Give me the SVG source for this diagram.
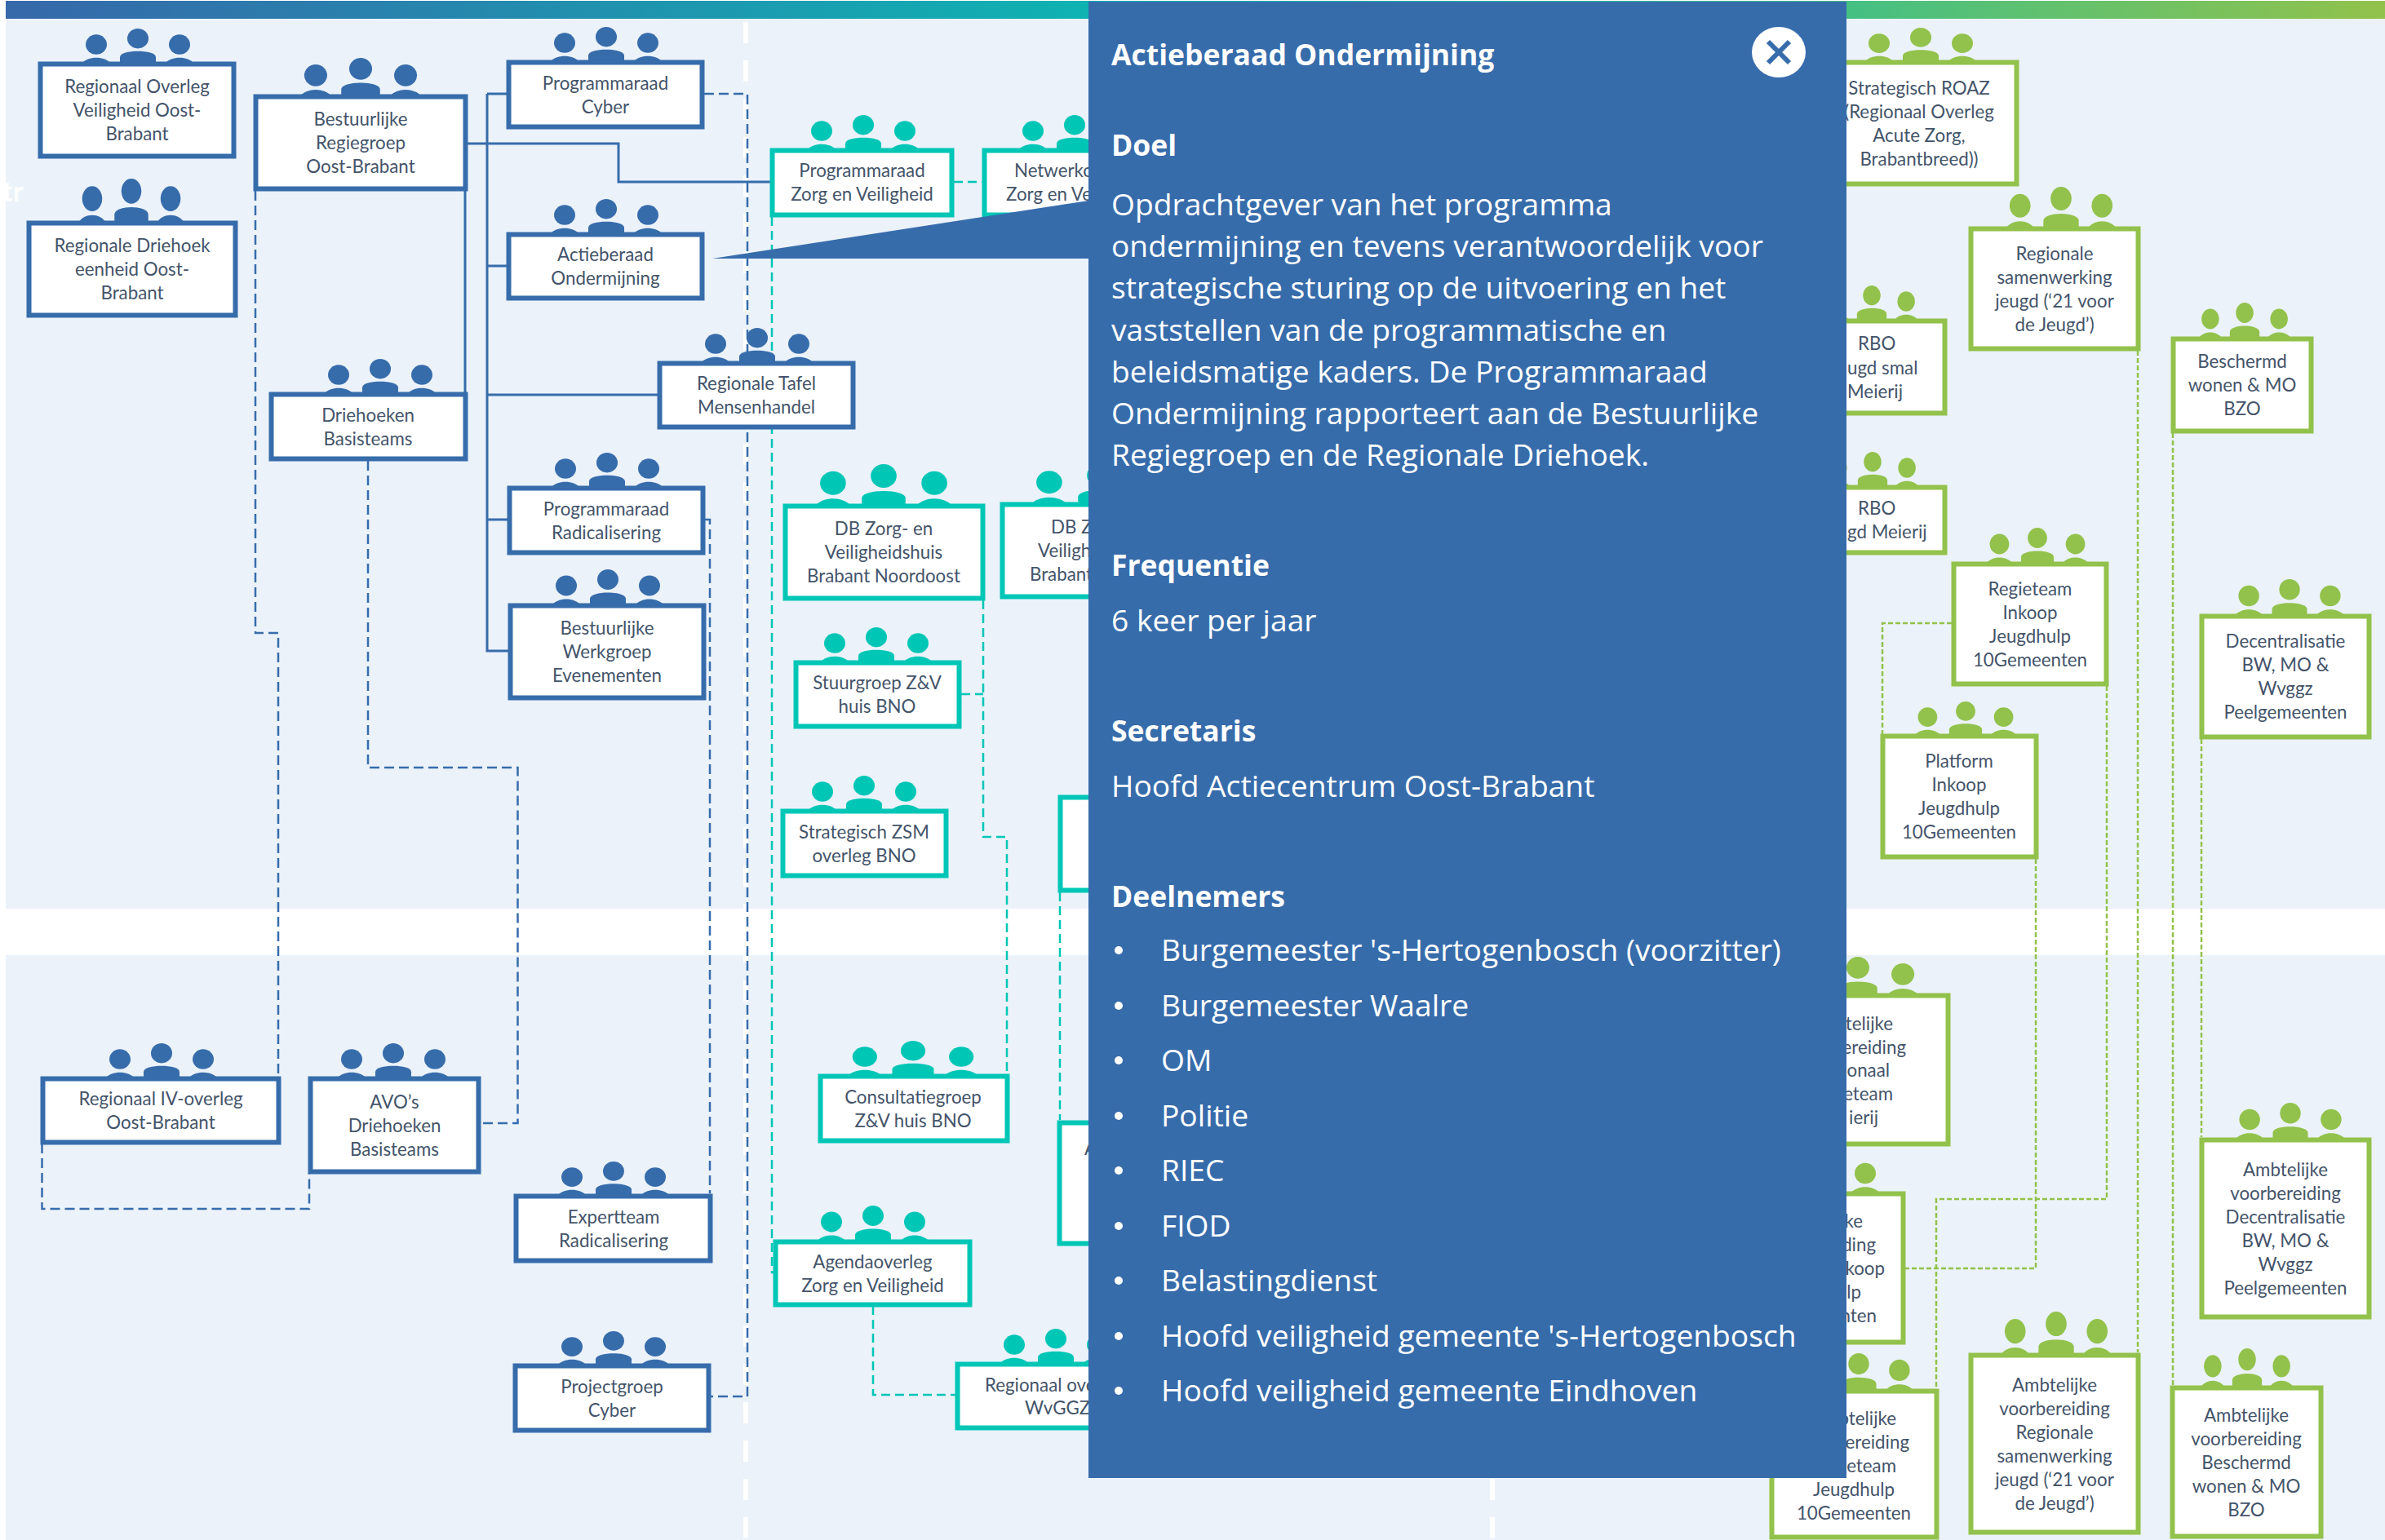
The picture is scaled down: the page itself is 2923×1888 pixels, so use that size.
<svg xmlns="http://www.w3.org/2000/svg" width="2923" height="1888" viewBox="0 0 2923 1888">
<style>
.nb{fill:#fff;stroke:#376CAB;stroke-width:6}
.nt{fill:#fff;stroke:#00C6B6;stroke-width:6}
.ng{fill:#fff;stroke:#92C24B;stroke-width:6}
.ib{fill:#376CAB}.it{fill:#00C6B6}.ig{fill:#92C24B}
text{font-family:"Lato","Open Sans","Liberation Sans",sans-serif}
.l{font-size:22.3px;fill:#44546A;text-anchor:middle}
.ls{font-size:22.3px;fill:#44546A;text-anchor:start}
.le{font-size:22.3px;fill:#44546A;text-anchor:end}
.cb,.ct,.cg,.cs{fill:none}
.cs{stroke:#376CAB;stroke-width:3}
.cb{stroke:#376CAB;stroke-width:2.5;stroke-dasharray:12 6}
.ct{stroke:#00C6B6;stroke-width:2.5;stroke-dasharray:11 6}
.cg{stroke:#92C24B;stroke-width:2.5;stroke-dasharray:6 3}
.ph{font-family:"Open Sans","Liberation Sans",sans-serif;font-size:35.5px;font-weight:700;fill:#fff}
.pb{font-family:"Open Sans","Liberation Sans",sans-serif;font-size:37.2px;fill:#fff}
</style>
<defs>
<linearGradient id="bar" x1="0" x2="1" y1="0" y2="0"><stop offset="0" stop-color="#3668AA"/><stop offset="0.45" stop-color="#0FB2B2"/><stop offset="0.75" stop-color="#3CC08A"/><stop offset="1" stop-color="#92C24B"/></linearGradient>
<symbol id="p" viewBox="0 0 138 44" preserveAspectRatio="none" overflow="visible">
<ellipse cx="18" cy="20" rx="13" ry="12.5"/><ellipse cx="69" cy="12.5" rx="13" ry="12.5"/><ellipse cx="120" cy="20" rx="13" ry="12.5"/>
<path d="M0 44C8 34 28 34 36 44Z"/><path d="M47 44V36C47 26 91 26 91 36V44Z"/><path d="M102 44C110 34 130 34 138 44Z"/>
</symbol>
</defs>
<g id="background">
<rect width="2923" height="1888" fill="#fff"/>
<rect x="7" y="22" width="2916" height="1092" fill="#EBF2FA"/>
<rect x="7" y="1171" width="2916" height="717" fill="#EBF2FA"/>
<rect x="7" y="1" width="2916" height="22" fill="url(#bar)"/>
<path d="M914 27V1888M1829 27V1888" fill="none" stroke="#fff" stroke-width="6" stroke-dasharray="26 21"/>
<text x="3" y="247" font-size="34" font-weight="700" fill="#fff">tr</text>
</g>
<g id="connectors">
<path class="cs" d="M573 176H597M597 115V798H623M597 115H621M597 326H621M597 484H806M597 637H622M597 176H758V223H944M570 234V481"/>
<path class="cb" d="M863 115H916V1712H871"/>
<path class="cb" d="M313 234V776H341V1319"/>
<path class="cb" d="M451 565V941H634.5V1377H589"/>
<path class="cb" d="M864 637H870V1463"/>
<path class="cb" d="M51.500 1402V1482H379V1438"/>
<path class="ct" d="M1169 223H1204"/>
<path class="ct" d="M946 266V1560H948"/>
<path class="ct" d="M1205 736V1026H1234V1316"/>
<path class="ct" d="M1178 851H1205"/>
<path class="ct" d="M1299 1094V1373"/>
<path class="ct" d="M1070 1601V1710H1171"/>
<path class="cg" d="M2620 430V1658"/>
<path class="cg" d="M2663 531V1698"/>
<path class="cg" d="M2698 906V1394"/>
<path class="cg" d="M2582 841V1470H2373V1702"/>
<path class="cg" d="M2495 1053V1555H2335"/>
<path class="cg" d="M2392 764H2307V900"/>
</g>
<g id="n01"><use href="#p" class="ib" x="100" y="35" width="138" height="43"/><rect class="nb" x="49.500" y="78.500" width="237" height="113"/><text class="l" x="168" y="114">Regionaal Overleg</text><text class="l" x="168" y="143">Veiligheid Oost-</text><text class="l" x="168" y="172">Brabant</text></g>
<g id="n02"><use href="#p" class="ib" x="96" y="219" width="130" height="54"/><rect class="nb" x="35.500" y="273.500" width="253" height="113"/><text class="l" x="162" y="309">Regionale Driehoek</text><text class="l" x="162" y="338">eenheid Oost-</text><text class="l" x="162" y="367">Brabant</text></g>
<g id="n03"><use href="#p" class="ib" x="367.500" y="71" width="149" height="47"/><rect class="nb" x="313.500" y="118.500" width="257" height="113"/><text class="l" x="442" y="154">Bestuurlijke</text><text class="l" x="442" y="183">Regiegroep</text><text class="l" x="442" y="212">Oost-Brabant</text></g>
<g id="n04"><use href="#p" class="ib" x="674" y="33" width="138" height="43"/><rect class="nb" x="623.500" y="76.500" width="237" height="79"/><text class="l" x="742" y="109.500">Programmaraad</text><text class="l" x="742" y="138.500">Cyber</text></g>
<g id="n05"><use href="#p" class="ib" x="674" y="244" width="138" height="43"/><rect class="nb" x="623.500" y="287.500" width="237" height="78"/><text class="l" x="742" y="320">Actieberaad</text><text class="l" x="742" y="349">Ondermijning</text></g>
<g id="n06"><use href="#p" class="ib" x="397" y="440" width="138" height="43"/><rect class="nb" x="332.500" y="483.500" width="238" height="79"/><text class="l" x="451" y="516.500">Driehoeken</text><text class="l" x="451" y="545.500">Basisteams</text></g>
<g id="n07"><use href="#p" class="ib" x="859" y="402" width="138" height="43"/><rect class="nb" x="808.500" y="445.500" width="237" height="78"/><text class="l" x="927" y="478">Regionale Tafel</text><text class="l" x="927" y="507">Mensenhandel</text></g>
<g id="n08"><use href="#p" class="ib" x="675" y="555" width="138" height="43"/><rect class="nb" x="624.500" y="598.500" width="237" height="79"/><text class="l" x="743" y="631.500">Programmaraad</text><text class="l" x="743" y="660.500">Radicalisering</text></g>
<g id="n09"><use href="#p" class="ib" x="676" y="698" width="138" height="44"/><rect class="nb" x="625.500" y="742.500" width="237" height="113"/><text class="l" x="744" y="778">Bestuurlijke</text><text class="l" x="744" y="807">Werkgroep</text><text class="l" x="744" y="836">Evenementen</text></g>
<g id="n10"><use href="#p" class="ib" x="129" y="1279" width="138" height="43"/><rect class="nb" x="52.500" y="1322.500" width="289" height="78"/><text class="l" x="197" y="1355">Regionaal IV-overleg</text><text class="l" x="197" y="1384">Oost-Brabant</text></g>
<g id="n11"><use href="#p" class="ib" x="413" y="1279" width="138" height="43"/><rect class="nb" x="380.500" y="1322.500" width="206" height="114"/><text class="l" x="483.500" y="1358.500">AVO’s</text><text class="l" x="483.500" y="1387.500">Driehoeken</text><text class="l" x="483.500" y="1416.500">Basisteams</text></g>
<g id="n12"><use href="#p" class="ib" x="683" y="1424" width="138" height="42"/><rect class="nb" x="632.500" y="1466.500" width="238" height="79"/><text class="l" x="752" y="1499.500">Expertteam</text><text class="l" x="752" y="1528.500">Radicalisering</text></g>
<g id="n13"><use href="#p" class="ib" x="683" y="1632" width="138" height="42"/><rect class="nb" x="631.500" y="1674.500" width="237" height="79"/><text class="l" x="750" y="1707.500">Projectgroep</text><text class="l" x="750" y="1736.500">Cyber</text></g>
<g id="n14"><use href="#p" class="it" x="989" y="141" width="138" height="43"/><rect class="nt" x="946.500" y="184.500" width="220" height="79"/><text class="l" x="1056.500" y="217">Programmaraad</text><text class="l" x="1056.500" y="246">Zorg en Veiligheid</text></g>
<g id="n15"><use href="#p" class="it" x="1248" y="141" width="138" height="43"/><rect class="nt" x="1206.500" y="184.500" width="220" height="79"/><text class="ls" x="1243" y="217">Netwerko</text><text class="ls" x="1233" y="246">Zorg en Ve</text></g>
<g id="n16"><use href="#p" class="it" x="999" y="569" width="168" height="51"/><rect class="nt" x="962.500" y="620.500" width="242" height="113"/><text class="l" x="1083" y="656">DB Zorg- en</text><text class="l" x="1083" y="685">Veiligheidshuis</text><text class="l" x="1083" y="714">Brabant Noordoost</text></g>
<g id="n17"><use href="#p" class="it" x="1264" y="569" width="168" height="49"/><rect class="nt" x="1228.500" y="618.500" width="220" height="113"/><text class="ls" x="1288" y="654">DB Zo</text><text class="ls" x="1272" y="683">Veiligh</text><text class="ls" x="1262" y="712">Brabant</text></g>
<g id="n18"><use href="#p" class="it" x="1005" y="769" width="138" height="43"/><rect class="nt" x="975.500" y="812.500" width="200" height="78"/><text class="l" x="1075" y="845">Stuurgroep Z&amp;V</text><text class="l" x="1075" y="874">huis BNO</text></g>
<g id="n19"><use href="#p" class="it" x="990" y="951" width="138" height="43"/><rect class="nt" x="959.500" y="994.500" width="200" height="79"/><text class="l" x="1059" y="1027.500">Strategisch ZSM</text><text class="l" x="1059" y="1056.500">overleg BNO</text></g>
<g id="n20"><rect class="nt" x="1299.500" y="977.500" width="100" height="114"/></g>
<g id="n21"><use href="#p" class="it" x="1039" y="1276" width="160" height="43"/><rect class="nt" x="1005.500" y="1319.500" width="229" height="79"/><text class="l" x="1119" y="1352.500">Consultatiegroep</text><text class="l" x="1119" y="1381.500">Z&amp;V huis BNO</text></g>
<g id="n22"><rect class="nt" x="1298.500" y="1376.500" width="100" height="148"/><text class="ls" x="1329" y="1416">A</text></g>
<g id="n23"><use href="#p" class="it" x="1001" y="1478" width="138" height="44"/><rect class="nt" x="950.500" y="1522.500" width="238" height="77"/><text class="l" x="1069.500" y="1554.500">Agendaoverleg</text><text class="l" x="1069.500" y="1583.500">Zorg en Veiligheid</text></g>
<g id="n24"><use href="#p" class="it" x="1225" y="1629" width="138" height="43"/><rect class="nt" x="1173.500" y="1672.500" width="220" height="78"/><text class="ls" x="1207" y="1706">Regionaal ove</text><text class="ls" x="1256" y="1734">WvGGZ</text></g>
<g id="n25"><use href="#p" class="ig" x="2285" y="34" width="138" height="42"/><rect class="ng" x="2200" y="76.500" width="271.500" height="149"/><text class="l" x="2352" y="115.500">Strategisch ROAZ</text><text class="l" x="2352" y="144.500">(Regionaal Overleg</text><text class="l" x="2352" y="173.500">Acute Zorg,</text><text class="l" x="2352" y="202.500">Brabantbreed))</text></g>
<g id="n26"><use href="#p" class="ig" x="2458" y="229" width="136" height="51"/><rect class="ng" x="2415.500" y="280.500" width="205" height="147"/><text class="l" x="2518" y="318.500">Regionale</text><text class="l" x="2518" y="347.500">samenwerking</text><text class="l" x="2518" y="376.500">jeugd (‘21 voor</text><text class="l" x="2518" y="405.500">de Jeugd’)</text></g>
<g id="n27"><use href="#p" class="ig" x="2237" y="350" width="114" height="43"/><rect class="ng" x="2200" y="393.500" width="183.500" height="113"/><text class="ls" x="2277" y="429">RBO</text><text class="ls" x="2264" y="459">ugd smal</text><text class="ls" x="2264" y="488">Meierij</text></g>
<g id="n28"><use href="#p" class="ig" x="2238" y="554" width="114" height="43"/><rect class="ng" x="2200" y="597.500" width="183.500" height="80"/><text class="ls" x="2277" y="631">RBO</text><text class="ls" x="2264" y="660">gd Meierij</text></g>
<g id="n29"><use href="#p" class="ig" x="2694" y="371" width="114" height="44"/><rect class="ng" x="2663.500" y="415.500" width="169" height="113"/><text class="l" x="2748" y="451">Beschermd</text><text class="l" x="2748" y="480">wonen &amp; MO</text><text class="l" x="2748" y="509">BZO</text></g>
<g id="n30"><use href="#p" class="ig" x="2434" y="647" width="126" height="44"/><rect class="ng" x="2394.500" y="691.500" width="187" height="147"/><text class="l" x="2488" y="729.500">Regieteam</text><text class="l" x="2488" y="758.500">Inkoop</text><text class="l" x="2488" y="787.500">Jeugdhulp</text><text class="l" x="2488" y="816.500">10Gemeenten</text></g>
<g id="n31"><use href="#p" class="ig" x="2346" y="860" width="126" height="42"/><rect class="ng" x="2307.500" y="902.500" width="188" height="148"/><text class="l" x="2401" y="941">Platform</text><text class="l" x="2401" y="970">Inkoop</text><text class="l" x="2401" y="999">Jeugdhulp</text><text class="l" x="2401" y="1028">10Gemeenten</text></g>
<g id="n32"><use href="#p" class="ig" x="2738.500" y="710" width="135" height="45"/><rect class="ng" x="2698.500" y="755.500" width="205" height="148"/><text class="l" x="2801" y="794">Decentralisatie</text><text class="l" x="2801" y="823">BW, MO &amp;</text><text class="l" x="2801" y="852">Wvggz</text><text class="l" x="2801" y="881">Peelgemeenten</text></g>
<g id="n33"><use href="#p" class="ig" x="2202.500" y="1173" width="149" height="47"/><rect class="ng" x="2200" y="1220.500" width="187.500" height="182"/><text class="le" x="2320" y="1263">telijke</text><text class="le" x="2336" y="1292">ereiding</text><text class="le" x="2316" y="1320">onaal</text><text class="le" x="2320" y="1349">eteam</text><text class="le" x="2302" y="1378">ierij</text></g>
<g id="n34"><use href="#p" class="ig" x="2166" y="1418" width="138" height="45"/><rect class="ng" x="2200" y="1463.500" width="132.500" height="182"/><text class="le" x="2283" y="1505">ke</text><text class="le" x="2299" y="1534">ding</text><text class="le" x="2310" y="1563">koop</text><text class="le" x="2281" y="1592">lp</text><text class="le" x="2300" y="1621">nten</text></g>
<g id="n35"><use href="#p" class="ig" x="2210.500" y="1659" width="135" height="46"/><rect class="ng" x="2171.500" y="1705.500" width="202" height="179"/><text class="le" x="2324" y="1747">btelijke</text><text class="le" x="2340" y="1776">ereiding</text><text class="le" x="2324" y="1805">eteam</text><text class="l" x="2272" y="1834">Jeugdhulp</text><text class="l" x="2272" y="1863">10Gemeenten</text></g>
<g id="n36"><use href="#p" class="ig" x="2452" y="1608" width="136" height="53"/><rect class="ng" x="2415.500" y="1661.500" width="205" height="217"/><text class="l" x="2518" y="1705.500">Ambtelijke</text><text class="l" x="2518" y="1734.500">voorbereiding</text><text class="l" x="2518" y="1763.500">Regionale</text><text class="l" x="2518" y="1792.500">samenwerking</text><text class="l" x="2518" y="1821.500">jeugd (‘21 voor</text><text class="l" x="2518" y="1850.500">de Jeugd’)</text></g>
<g id="n37"><use href="#p" class="ig" x="2697" y="1653" width="114" height="48"/><rect class="ng" x="2662.500" y="1701.500" width="182" height="182"/><text class="l" x="2753" y="1742.500">Ambtelijke</text><text class="l" x="2753" y="1771.500">voorbereiding</text><text class="l" x="2753" y="1800.500">Beschermd</text><text class="l" x="2753" y="1829.500">wonen &amp; MO</text><text class="l" x="2753" y="1858.500">BZO</text></g>
<g id="n38"><use href="#p" class="ig" x="2739.500" y="1352" width="135" height="45"/><rect class="ng" x="2698.500" y="1397.500" width="205" height="217"/><text class="l" x="2801" y="1441.500">Ambtelijke</text><text class="l" x="2801" y="1470.500">voorbereiding</text><text class="l" x="2801" y="1499.500">Decentralisatie</text><text class="l" x="2801" y="1528.500">BW, MO &amp;</text><text class="l" x="2801" y="1557.500">Wvggz</text><text class="l" x="2801" y="1586.500">Peelgemeenten</text></g>
<g id="panel">
<polygon points="873,317 1334,317 1334,246" fill="#376CAB"/>
<rect x="1334" y="2" width="929" height="1810" fill="#376CAB"/>
<text class="ph" x="1362" y="80">Actieberaad Ondermijning</text>
<text class="ph" x="1362" y="191">Doel</text>
<text class="pb" x="1362" y="264">Opdrachtgever van het programma</text>
<text class="pb" x="1362" y="315">ondermijning en tevens verantwoordelijk voor</text>
<text class="pb" x="1362" y="366">strategische sturing op de uitvoering en het</text>
<text class="pb" x="1362" y="418">vaststellen van de programmatische en</text>
<text class="pb" x="1362" y="469">beleidsmatige kaders. De Programmaraad</text>
<text class="pb" x="1362" y="520">Ondermijning rapporteert aan de Bestuurlijke</text>
<text class="pb" x="1362" y="571">Regiegroep en de Regionale Driehoek.</text>
<text class="ph" x="1362" y="706">Frequentie</text>
<text class="pb" x="1362" y="774">6 keer per jaar</text>
<text class="ph" x="1362" y="909">Secretaris</text>
<text class="pb" x="1362" y="977">Hoofd Actiecentrum Oost-Brabant</text>
<text class="ph" x="1362" y="1112">Deelnemers</text>
<g fill="#fff"><circle cx="1371" cy="1165" r="5"/><circle cx="1371" cy="1233" r="5"/><circle cx="1371" cy="1300" r="5"/><circle cx="1371" cy="1368" r="5"/><circle cx="1371" cy="1435" r="5"/><circle cx="1371" cy="1503" r="5"/><circle cx="1371" cy="1570" r="5"/><circle cx="1371" cy="1638" r="5"/><circle cx="1371" cy="1705" r="5"/></g>
<text class="pb" x="1423" y="1178">Burgemeester 's-Hertogenbosch (voorzitter)</text>
<text class="pb" x="1423" y="1246">Burgemeester Waalre</text>
<text class="pb" x="1423" y="1313">OM</text>
<text class="pb" x="1423" y="1381">Politie</text>
<text class="pb" x="1423" y="1448">RIEC</text>
<text class="pb" x="1423" y="1516">FIOD</text>
<text class="pb" x="1423" y="1583">Belastingdienst</text>
<text class="pb" x="1423" y="1651">Hoofd veiligheid gemeente 's-Hertogenbosch</text>
<text class="pb" x="1423" y="1718">Hoofd veiligheid gemeente Eindhoven</text>
<g id="close"><ellipse cx="2180" cy="64" rx="33" ry="31" fill="#fff"/><path d="M2167 51L2193 77M2193 51L2167 77" stroke="#376CAB" stroke-width="6" fill="none"/></g>
</g>
</svg>
